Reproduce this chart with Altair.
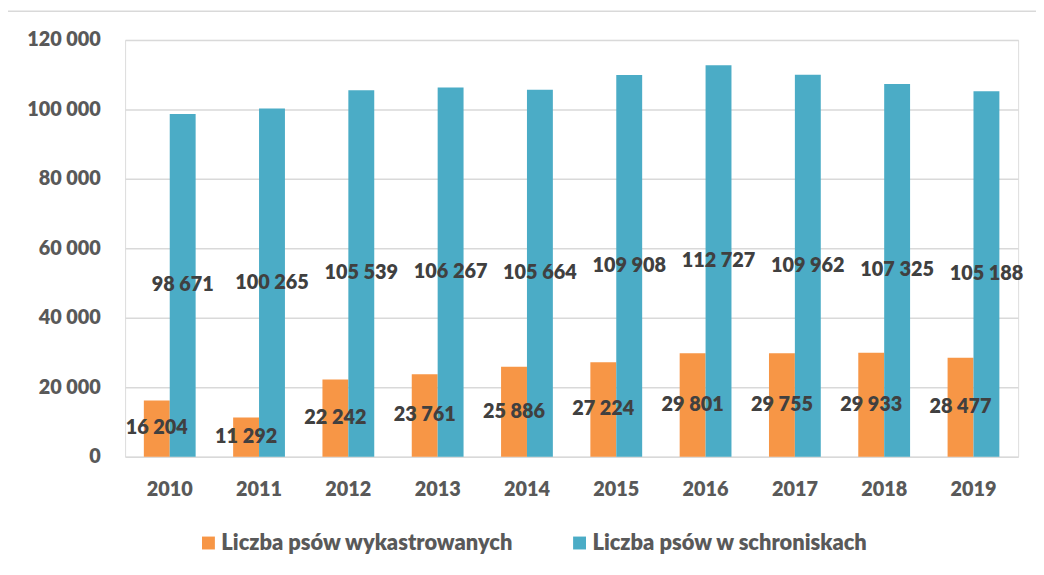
import altair as alt
import pandas as pd

years = ["2010", "2011", "2012", "2013", "2014", "2015", "2016", "2017", "2018", "2019"]
neutered = [16204, 11292, 22242, 23761, 25886, 27224, 29801, 29755, 29933, 28477]
shelter = [98671, 100265, 105539, 106267, 105664, 109908, 112727, 109962, 107325, 105188]
series_names = ["Liczba psów wykastrowanych", "Liczba psów w schroniskach"]
series_colors = ["#F79646", "#4BACC6"]
y_ticks = [0, 20000, 40000, 60000, 80000, 100000, 120000]

rows = []
for i, y in enumerate(years):
    rows.append({"year": y, "series": series_names[0], "value": neutered[i]})
    rows.append({"year": y, "series": series_names[1], "value": shelter[i]})
df = pd.DataFrame(rows)
df["label"] = df["value"].map(lambda v: f"{v:,}".replace(",", " "))

FONT = "Lato"

x_enc = alt.X("year:N", sort=years,
              scale=alt.Scale(paddingInner=0.42, paddingOuter=0.21),
              axis=alt.Axis(title=None, labelAngle=0, domain=False, ticks=False,
                            labelPadding=23, labelFontSize=20, labelFont=FONT,
                            labelFontWeight=800, labelColor="#595959"))
xoff = alt.XOffset("series:N", sort=series_names, scale=alt.Scale(paddingInner=0, paddingOuter=0))
y_enc = alt.Y("value:Q", scale=alt.Scale(domain=[0, 120000], nice=False),
              axis=alt.Axis(title=None, values=y_ticks, domain=False, ticks=False,
                            labelPadding=25, labelFontSize=20, labelFont=FONT,
                            labelFontWeight=800, labelColor="#595959",
                            labelExpr="replace(format(datum.value, ','), ',', ' ')",
                            gridColor="#D9D9D9", gridWidth=1.5))

base = alt.Chart(df)

bars = base.mark_bar().encode(
    x=x_enc, xOffset=xoff, y=y_enc,
    color=alt.Color("series:N", sort=series_names,
                    scale=alt.Scale(domain=series_names, range=series_colors),
                    legend=alt.Legend(title=None, orient="none", direction="horizontal",
                                      legendX=73, legendY=496,
                                      labelFontSize=22, labelFont=FONT, labelFontWeight=800,
                                      labelColor="#595959", symbolType="square",
                                      symbolSize=169, symbolStrokeWidth=0, labelLimit=0,
                                      columnPadding=55, labelOffset=2)),
)

labels = base.transform_calculate(mid="datum.value / 2").mark_text(
    font=FONT, fontSize=20, fontWeight=800, color="#404040", baseline="middle"
).encode(
    x=alt.X("year:N", sort=years), xOffset=alt.XOffset("series:N", sort=series_names),
    y=alt.Y("mid:Q"), text="label:N",
)

border = alt.Chart(pd.DataFrame({"a": [0]})).mark_rect(
    fill=None, stroke="#D9D9D9", strokeWidth=1.5, clip=False
).encode(x=alt.value(-119), x2=alt.value(960), y=alt.value(-29), y2=alt.value(560))

chart = alt.layer(border, bars, labels).properties(
    width=900, height=420,
    autosize=alt.AutoSizeParams(type="none"),
    padding={"left": 118, "top": 30, "right": 18, "bottom": 109},
).configure_view(stroke=None).configure(background="white")

chart.save("out.html", embed_options={"renderer": "svg", "actions": False})
